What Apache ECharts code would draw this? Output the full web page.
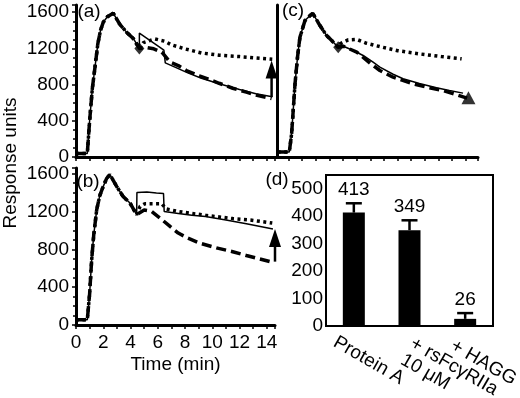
<!DOCTYPE html>
<html>
<head>
<meta charset="utf-8">
<script src="https://cdn.jsdelivr.net/npm/echarts@6/dist/echarts.min.js"></script>
<style>
html, body { margin: 0; padding: 0; background: #fff; }
#chart { width: 520px; height: 398px; }
</style>
</head>
<body>
<div id="chart"></div>
<script>
// (a) shared association phase, then the three dissociation traces
const aRise = [[0, 40], [0.83, 40], [1.0, 400], [1.2, 760], [1.4, 1000], [1.6, 1250], [1.8, 1400], [2.0, 1490], [2.3, 1550], [2.73, 1590], [3.2, 1470], [3.7, 1380], [4.2, 1310], [4.65, 1200]]
const aSolid = [[4.65, 1370], [6.45, 1180], [6.55, 1040], [7.3, 990], [8.2, 930], [9.2, 870], [10.5, 810], [12, 745], [13.2, 700], [14.4, 665]]
const aDashed = [[5.2, 1210], [5.7, 1196], [6.3, 1158], [6.9, 1048], [7.5, 1011], [8.1, 956], [9.1, 895], [10.5, 815], [11.5, 760], [12.5, 717], [13.2, 685], [14.35, 645]]
const aDotted = [[4.95, 1265], [5.8, 1305], [6.5, 1280], [7.0, 1240], [8.0, 1195], [9.2, 1150], [10.5, 1125], [12, 1110], [14.4, 1080]]
const aMark = [4.65, 1200]
const aArrow = [14.35, 662, 1067]

// (b)
const bRise = [[0, 55], [0.83, 55], [1.0, 330], [1.15, 690], [1.3, 950], [1.52, 1220], [1.75, 1370], [2.0, 1466], [2.25, 1550], [2.49, 1590], [2.98, 1466], [3.45, 1360], [3.96, 1290], [4.45, 1166]]
const bSolid = [[4.47, 1402], [5.2, 1405], [5.9, 1395], [6.42, 1390], [6.47, 1200], [7.5, 1180], [8.5, 1160], [9.5, 1148], [11, 1110], [12.5, 1070], [14.45, 1015]]
const bDashed = [[5.0, 1215], [5.55, 1201], [6.16, 1131], [6.9, 1042], [7.5, 972], [8.2, 919], [9.1, 865], [10.3, 815], [11.5, 775], [12.5, 735], [13.3, 705], [14.25, 670]]
const bDotted = [[4.7, 1254], [5.06, 1283], [6.28, 1283], [6.64, 1226], [7.5, 1200], [8.5, 1180], [9.5, 1160], [11.5, 1125], [12.8, 1110], [14.4, 1078]]
const bArrow = [14.6, 670, 1014]

// (c)
const cRise = [[0.2, 55], [1.05, 55], [1.22, 258], [1.47, 810], [1.65, 1100], [1.83, 1324], [2.2, 1508], [2.76, 1590], [3.3, 1453], [3.79, 1342], [4.28, 1269], [4.64, 1213]]
const cSolid = [[4.89, 1232], [5.74, 1177], [6.47, 1122], [7.2, 1048], [7.7, 993], [8.67, 915], [9.4, 865], [10.6, 812], [11.85, 765], [12.8, 735], [13.8, 706]]
const cDashed = [[5.0, 1225], [6.0, 1160], [7.0, 1035], [7.7, 956], [8.67, 882], [10.1, 810], [11.2, 770], [12.3, 735], [13.3, 690], [14.1, 650]]
const cDotted = [[4.77, 1251], [5.37, 1295], [5.99, 1300], [6.72, 1257], [7.7, 1220], [9.0, 1175], [10.6, 1140], [12.2, 1110], [13.7, 1085]]
const cMark = [4.64, 1213]
const cEnd = [14.2, 655]

// (d)
const dCats = ['Protein A', '+ rsFcγRIIa\n10 μM', '+ HAGG']
const dMeans = [413, 349, 26]
const dErr = [34, 36, 21]

const timeTicks = [0, 2, 4, 6, 8, 10, 12, 14]
const ruTicks = [0, 400, 800, 1200, 1600]

const FONT = 'Liberation Sans, Arial, Helvetica, sans-serif'
const black = '#000'

function timeAxis(gridIndex, max, showLabels) {
  return {
    type: 'value', gridIndex, min: 0, max, interval: 2,
    axisLine: { lineStyle: { color: black, width: 3 } },
    axisTick: { length: 4, lineStyle: { color: black, width: 1.5 } },
    minorTick: { show: true, splitNumber: 2, length: 4, lineStyle: { color: black, width: 1.5 } },
    axisLabel: {
      show: showLabels, fontSize: 19, fontFamily: FONT, color: black, margin: 8,
      formatter: v => timeTicks.includes(v) ? String(v) : ''
    },
    splitLine: { show: false },
    name: showLabels ? 'Time (min)' : '',
    nameLocation: 'middle', nameGap: 30,
    nameTextStyle: { fontSize: 19, fontFamily: FONT, color: black }
  }
}

function ruAxis(gridIndex, max, showLabels, offset) {
  return {
    type: 'value', gridIndex, min: 0, max, interval: 400, offset,
    axisLine: { lineStyle: { color: black, width: 3 } },
    axisTick: { show: showLabels, length: 4, lineStyle: { color: black, width: 1.5 } },
    minorTick: { show: showLabels, splitNumber: 4, length: 3, lineStyle: { color: black, width: 1.5 } },
    axisLabel: {
      show: showLabels, fontSize: 19, fontFamily: FONT, color: black, margin: 5,
      formatter: v => ruTicks.includes(v) ? String(v) : ''
    },
    splitLine: { show: false }
  }
}

function trace(idx, pts, kind) {
  const style = {
    solid: { width: 1.5, type: 'solid' },
    dashed: { width: 3.5, type: [10, 5] },
    dotted: { width: 3.5, type: [3, 3.5] }
  }[kind]
  return {
    type: 'line', xAxisIndex: idx, yAxisIndex: idx, data: pts,
    showSymbol: false, symbol: 'none', silent: true,
    lineStyle: Object.assign({ color: black, cap: 'butt' }, style)
  }
}

function arrowItem(params, api) {
  const base = api.coord([api.value(0), api.value(1)])
  const tip = api.coord([api.value(0), api.value(2)])
  const w = 6, h = 18
  return {
    type: 'group',
    children: [
      { type: 'line', shape: { x1: base[0], y1: base[1], x2: tip[0], y2: tip[1] + h - 2 }, style: { stroke: black, lineWidth: 2.5 } },
      { type: 'polygon', shape: { points: [[tip[0], tip[1]], [tip[0] - w, tip[1] + h], [tip[0] + w, tip[1] + h]] }, style: { fill: black } }
    ]
  }
}

function arrow(idx, a) {
  return {
    type: 'custom', xAxisIndex: idx, yAxisIndex: idx, renderItem: arrowItem,
    encode: { x: 0, y: [1, 2] }, data: [a], silent: true
  }
}

function errorItem(params, api) {
  const base = api.coord([api.value(0), api.value(1)])
  const top = api.coord([api.value(0), api.value(1) + api.value(2)])
  return {
    type: 'group',
    children: [
      { type: 'line', shape: { x1: base[0], y1: base[1], x2: top[0], y2: top[1] }, style: { stroke: black, lineWidth: 2.5 } },
      { type: 'line', shape: { x1: top[0] - 8, y1: top[1], x2: top[0] + 8, y2: top[1] }, style: { stroke: black, lineWidth: 2.5 } },
      { type: 'text', x: top[0], y: top[1] - 4, style: { text: String(api.value(1)), fill: black, font: '19px ' + FONT, align: 'center', verticalAlign: 'bottom', textAlign: 'center', textVerticalAlign: 'bottom' } }
    ]
  }
}

function panelText(text, x, y, rotation) {
  return {
    type: 'text', x, y, rotation: rotation || 0,
    style: { text, fill: black, font: '19px ' + FONT, align: 'center', verticalAlign: 'middle', textAlign: 'center', textVerticalAlign: 'middle' }
  }
}

const labelPads = [[29, 0, 0, -22], [14, 0, 0, -3], [3, 0, 0, -15]]

const chart = echarts.init(document.getElementById('chart'), null, { renderer: 'canvas' })

const option = {
  animation: false,
  backgroundColor: '#fff',
  textStyle: { fontFamily: FONT, color: black },
  grid: [
    { left: 76, top: 5, width: 199, height: 152, outerBoundsMode: 'none' },
    { left: 275, top: 5, width: 203, height: 152, outerBoundsMode: 'none' },
    { left: 76, top: 168, width: 199, height: 157, outerBoundsMode: 'none' },
    { left: 326, top: 175, width: 167, height: 151, outerBoundsMode: 'none', show: true, borderColor: black, borderWidth: 2, backgroundColor: 'transparent' }
  ],
  xAxis: [
    timeAxis(0, 14.6, false),
    timeAxis(1, 14.9, false),
    timeAxis(2, 14.6, true),
    {
      type: 'category', gridIndex: 3,
      data: dCats.map((c, i) => ({ value: c, textStyle: { padding: labelPads[i] } })),
      axisLine: { lineStyle: { color: black, width: 2 } },
      axisTick: { length: 5, lineStyle: { color: black, width: 2 } },
      axisLabel: { interval: 0, rotate: -30, margin: 26, fontSize: 19, fontFamily: FONT, color: black, lineHeight: 19, hideOverlap: false }
    }
  ],
  yAxis: [
    ruAxis(0, 1680, true, 2),
    ruAxis(1, 1680, false, -2),
    ruAxis(2, 1660, true, 2),
    {
      type: 'value', gridIndex: 3, min: 0, max: 550, interval: 100,
      axisLine: { lineStyle: { color: black, width: 2 } },
      axisTick: { length: 4, lineStyle: { color: black, width: 1.5 } },
      axisLabel: { fontSize: 19, fontFamily: FONT, color: black, margin: 3, showMaxLabel: false },
      splitLine: { show: false }
    }
  ],
  series: [
    trace(0, aRise.concat(aDotted), 'dotted'),
    trace(0, aRise.concat(aDashed), 'dashed'),
    trace(0, aRise.concat(aSolid), 'solid'),
    { type: 'scatter', xAxisIndex: 0, yAxisIndex: 0, data: [aMark], symbol: 'diamond', symbolSize: [10, 12], itemStyle: { color: black } },
    arrow(0, aArrow),

    trace(1, cRise.concat(cDotted), 'dotted'),
    trace(1, cRise.concat(cDashed), 'dashed'),
    trace(1, cRise.concat(cSolid), 'solid'),
    { type: 'scatter', xAxisIndex: 1, yAxisIndex: 1, data: [cMark], symbol: 'diamond', symbolSize: [10, 12], itemStyle: { color: black } },
    { type: 'scatter', xAxisIndex: 1, yAxisIndex: 1, data: [cEnd], symbol: 'triangle', symbolSize: [14, 13], itemStyle: { color: black } },

    trace(2, bRise.concat(bDotted), 'dotted'),
    trace(2, bRise.concat(bDashed), 'dashed'),
    trace(2, bRise.concat(bSolid), 'solid'),
    arrow(2, bArrow),

    { type: 'bar', xAxisIndex: 3, yAxisIndex: 3, data: dMeans, barWidth: 22, itemStyle: { color: black } },
    {
      type: 'custom', xAxisIndex: 3, yAxisIndex: 3, renderItem: errorItem,
      encode: { x: 0, y: [1, 2] },
      data: dMeans.map((m, i) => [i, m, dErr[i]])
    }
  ],
  graphic: [
    panelText('(a)', 89, 12),
    panelText('(c)', 293, 11),
    panelText('(b)', 88, 182),
    panelText('(d)', 277, 180),
    panelText('Response units', 11, 163, Math.PI / 2)
  ]
}

chart.setOption(option)
</script>
</body>
</html>
